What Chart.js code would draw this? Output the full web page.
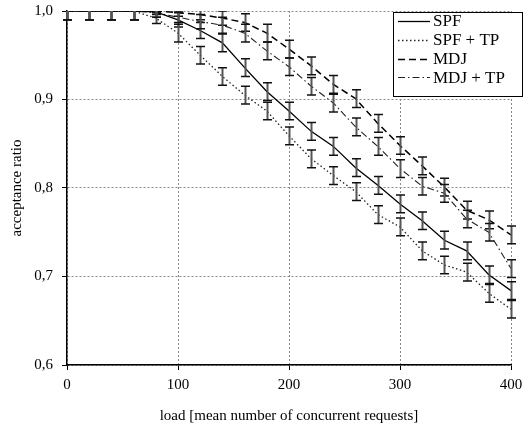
<!DOCTYPE html>
<html>
<head>
<meta charset="utf-8">
<script src="https://cdn.jsdelivr.net/npm/chart.js@4/dist/chart.umd.min.js"></script>
<style>
  html, body { margin: 0; padding: 0; background: #fff; }
  canvas { display: block; }
</style>
</head>
<body>
<canvas id="chart" width="531" height="430"></canvas>
<script>
// Offered load (mean number of concurrent requests)
const loads = [0, 20, 40, 60, 80, 100, 120, 140, 160, 180, 200, 220, 240, 260, 280, 300, 320, 340, 360, 380, 400];

// Mean acceptance ratio per routing scheme
const spf     = [1, 1, 1, 1, 0.999, 0.990, 0.978, 0.964, 0.936, 0.909, 0.887, 0.864, 0.847, 0.823, 0.803, 0.782, 0.763, 0.741, 0.729, 0.702, 0.684];
const spfTp   = [1, 1, 1, 1, 0.992, 0.975, 0.950, 0.926, 0.905, 0.887, 0.859, 0.833, 0.814, 0.796, 0.770, 0.756, 0.729, 0.713, 0.705, 0.681, 0.663];
const mdj     = [1, 1, 1, 1, 1.000, 0.998, 0.996, 0.992, 0.987, 0.975, 0.957, 0.938, 0.917, 0.901, 0.873, 0.848, 0.825, 0.801, 0.775, 0.764, 0.747];
const mdjTp   = [1, 1, 1, 1, 0.998, 0.993, 0.988, 0.984, 0.975, 0.955, 0.937, 0.915, 0.896, 0.869, 0.847, 0.822, 0.802, 0.794, 0.765, 0.750, 0.709];

// Half-width of the confidence interval at each load
const spfErr   = [0.01, 0.01, 0.01, 0.01, 0.006, 0.008, 0.009, 0.010, 0.010, 0.010, 0.010, 0.010, 0.010, 0.010, 0.010, 0.010, 0.010, 0.010, 0.010, 0.010, 0.010];
const spfTpErr = [0.01, 0.01, 0.01, 0.01, 0.006, 0.010, 0.010, 0.010, 0.010, 0.010, 0.010, 0.010, 0.010, 0.010, 0.010, 0.010, 0.010, 0.010, 0.010, 0.010, 0.010];
const mdjErr   = [0.01, 0.01, 0.01, 0.01, 0.004, 0.004, 0.006, 0.008, 0.010, 0.010, 0.010, 0.010, 0.010, 0.010, 0.010, 0.010, 0.010, 0.010, 0.010, 0.010, 0.010];
const mdjTpErr = [0.01, 0.01, 0.01, 0.01, 0.005, 0.006, 0.008, 0.009, 0.010, 0.010, 0.010, 0.010, 0.010, 0.010, 0.010, 0.010, 0.010, 0.010, 0.010, 0.010, 0.010];

const seriesNames = ['SPF', 'SPF + TP', 'MDJ', 'MDJ + TP'];
const xTicks = [0, 100, 200, 300, 400];
const yTicks = [0.6, 0.7, 0.8, 0.9, 1.0];

const FONT = 'Liberation Serif, Times New Roman, serif';

function points(values) {
  return values.map((v, i) => ({ x: loads[i], y: v }));
}

const datasets = [
  { label: seriesNames[0], data: points(spf),   errors: spfErr,   borderColor: '#000', borderWidth: 1.3, borderDash: [] },
  { label: seriesNames[1], data: points(spfTp), errors: spfTpErr, borderColor: '#222', borderWidth: 1.3, borderDash: [1.5, 2.5] },
  { label: seriesNames[2], data: points(mdj),   errors: mdjErr,   borderColor: '#000', borderWidth: 1.5, borderDash: [7, 4] },
  { label: seriesNames[3], data: points(mdjTp), errors: mdjTpErr, borderColor: '#222', borderWidth: 1.1, borderDash: [7, 3, 1.5, 3] }
].map(d => Object.assign(d, { pointRadius: 0, tension: 0, fill: false }));

// Vertical error bars with caps, placed through the chart scales
const errorBars = {
  id: 'errorBars',
  afterDatasetsDraw(chart) {
    const { ctx, chartArea, scales: { x, y } } = chart;
    ctx.save();
    ctx.beginPath();
    ctx.rect(0, chartArea.top, chart.width, chartArea.bottom - chartArea.top);
    ctx.clip();
    ctx.setLineDash([]);
    chart.data.datasets.forEach(ds => {
      ds.data.forEach((p, i) => {
        const e = ds.errors[i];
        const px = Math.round(x.getPixelForValue(p.x)) + 0.5;
        const top = y.getPixelForValue(p.y + e);
        const bot = y.getPixelForValue(p.y - e);
        ctx.strokeStyle = '#555';
        ctx.lineWidth = 2;
        ctx.beginPath();
        ctx.moveTo(px, top);
        ctx.lineTo(px, bot);
        ctx.stroke();
        ctx.strokeStyle = '#111';
        ctx.lineWidth = 1.5;
        ctx.beginPath();
        ctx.moveTo(px - 4.5, top); ctx.lineTo(px + 4.5, top);
        ctx.moveTo(px - 4.5, bot); ctx.lineTo(px + 4.5, bot);
        ctx.stroke();
      });
    });
    ctx.restore();
  }
};

// Boxed legend in the upper right corner
const boxLegend = {
  id: 'boxLegend',
  afterDraw(chart) {
    const { ctx } = chart;
    const left = 393, top = 12, w = 129, h = 84;
    ctx.save();
    ctx.fillStyle = '#fff';
    ctx.fillRect(left, top, w, h);
    ctx.strokeStyle = '#000';
    ctx.lineWidth = 1;
    ctx.setLineDash([]);
    ctx.strokeRect(left + 0.5, top + 0.5, w, h);
    ctx.font = '17px ' + FONT;
    ctx.textBaseline = 'middle';
    ctx.fillStyle = '#000';
    chart.data.datasets.forEach((ds, i) => {
      const cy = top + 9 + i * 18.8;
      ctx.strokeStyle = ds.borderColor;
      ctx.lineWidth = ds.borderWidth;
      ctx.setLineDash(ds.borderDash);
      ctx.beginPath();
      ctx.moveTo(398, Math.round(cy) + 0.5);
      ctx.lineTo(430, Math.round(cy) + 0.5);
      ctx.stroke();
      ctx.fillText(ds.label, 433, cy + 1);
    });
    ctx.restore();
  }
};

new Chart(document.getElementById('chart'), {
  type: 'line',
  data: { datasets },
  options: {
    responsive: false,
    animation: false,
    devicePixelRatio: 1,
    layout: { padding: { left: 0, right: 20, top: 11, bottom: 0 } },
    plugins: { legend: { display: false }, tooltip: { enabled: false } },
    scales: {
      x: {
        type: 'linear',
        min: 0, max: 400,
        afterBuildTicks(scale) { scale.ticks = xTicks.map(v => ({ value: v })); },
        afterFit(scale) { scale.height = 65; },
        grid: { color: '#888', lineWidth: 1, tickLength: 5, tickColor: '#000', tickWidth: 1, tickBorderDash: [] },
        border: { display: true, color: '#000', width: 1.5, dash: [2, 2] },
        ticks: { color: '#000', font: { family: FONT, size: 15 }, padding: 6, maxRotation: 0 },
        title: { display: true, text: 'load [mean number of concurrent requests]', color: '#000', font: { family: FONT, size: 15 }, padding: { top: 0, bottom: 5 } }
      },
      y: {
        min: 0.6, max: 1.0,
        afterBuildTicks(scale) { scale.ticks = yTicks.map(v => ({ value: v })); },
        afterFit(scale) {
          scale.width = 67;
          // keep the label overhang from pushing the plot area down
          scale.paddingTop = 9;
          scale.paddingBottom = 9;
        },
        grid: { color: '#888', lineWidth: 1, tickLength: 5, tickColor: '#000', tickWidth: 1, tickBorderDash: [] },
        border: { display: true, color: '#000', width: 1.5, dash: [2, 2] },
        ticks: {
          color: '#000', font: { family: FONT, size: 15 }, padding: 9,
          callback: v => v.toFixed(1).replace('.', ',')
        },
        title: { display: true, text: 'acceptance ratio', color: '#000', font: { family: FONT, size: 15 }, padding: { top: 8, bottom: 0 } }
      }
    }
  },
  plugins: [errorBars, boxLegend]
});
</script>
</body>
</html>
